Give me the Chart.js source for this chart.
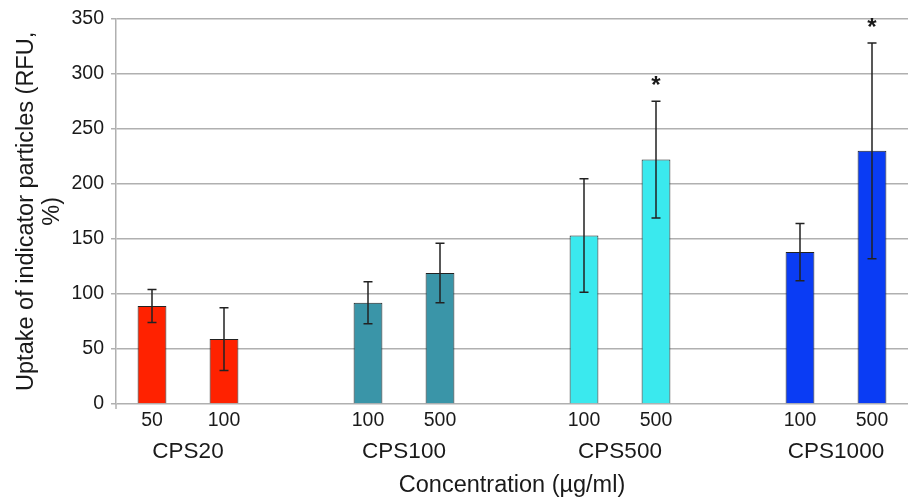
<!DOCTYPE html>
<html>
<head>
<meta charset="utf-8">
<script src="https://cdn.jsdelivr.net/npm/chart.js@4/dist/chart.umd.min.js"></script>
<style>
    html, body { margin: 0; padding: 0; background: #fff; }
    #wrap { width: 910px; height: 498px; }
</style>
</head>
<body>
<div id="wrap"><canvas id="uptake-chart" width="910" height="498"></canvas></div>
<script>
// Values
const groupNames = ["CPS20", "CPS100", "CPS500", "CPS1000"];
const doses = ["50", "100", "100", "500", "100", "500", "100", "500"];
const uptake = [89, 59, 92, 119, 153, 222, 138, 230];
const uptakeSd = [15, 28.5, 19, 27, 51.5, 53, 26, 98];
const significant = [false, false, false, false, false, true, false, true];
const yTicks = [0, 50, 100, 150, 200, 250, 300, 350];

const groupColors = ["#ff2200", "#3a95a8", "#3ae9ee", "#0a3cf4"];
const textColor = "#1a1a1a";
const gridColor = "#b0b0b0";
const fontFamily = "'Liberation Sans', Arial, sans-serif";

// Two bars per group, one empty slot between groups
let labels = [], values = [], errors = [], stars = [], colors = [], groupSlots = [];
let barIndex = 0;
groupNames.forEach((name, g) => {
    let slots = [];
    for (let k = 0; k < 2; k++) {
        slots.push(labels.length);
        labels.push(doses[barIndex]);
        values.push(uptake[barIndex]);
        errors.push(uptakeSd[barIndex]);
        stars.push(significant[barIndex]);
        colors.push(groupColors[g]);
        barIndex++;
    }
    groupSlots.push(slots);
    if (g < groupNames.length - 1) {
        labels.push("");
        values.push(null);
        errors.push(null);
        stars.push(false);
        colors.push("transparent");
    }
});

const errorBars = {
    id: "errorBars",
    afterDatasetsDraw(chart) {
        const {ctx, scales: {x, y}} = chart;
        ctx.save();
        ctx.strokeStyle = "#222";
        ctx.lineWidth = 1.5;
        values.forEach((v, i) => {
            if (v === null) return;
            let px = x.getPixelForValue(i);
            let top = y.getPixelForValue(v + errors[i]);
            let bottom = y.getPixelForValue(v - errors[i]);
            ctx.beginPath();
            ctx.moveTo(px, top);
            ctx.lineTo(px, bottom);
            ctx.moveTo(px - 4.5, top);
            ctx.lineTo(px + 4.5, top);
            ctx.moveTo(px - 4.5, bottom);
            ctx.lineTo(px + 4.5, bottom);
            ctx.stroke();
            if (stars[i]) {
                ctx.fillStyle = textColor;
                ctx.font = "bold 24px " + fontFamily;
                ctx.textAlign = "center";
                ctx.textBaseline = "middle";
                ctx.fillText("*", px, top - 15);
            }
        });
        ctx.restore();
    }
};

const groupLabels = {
    id: "groupLabels",
    afterDraw(chart) {
        const {ctx, scales: {x, y}} = chart;
        ctx.save();
        // y axis runs a little below the zero line
        ctx.strokeStyle = gridColor;
        ctx.lineWidth = 1.5;
        ctx.beginPath();
        ctx.moveTo(x.left, y.bottom);
        ctx.lineTo(x.left, y.bottom + 5);
        ctx.stroke();
        ctx.fillStyle = textColor;
        ctx.font = "22.5px " + fontFamily;
        ctx.textAlign = "center";
        ctx.textBaseline = "middle";
        groupSlots.forEach((slots, g) => {
            let px = (x.getPixelForValue(slots[0]) + x.getPixelForValue(slots[1])) / 2;
            ctx.fillText(groupNames[g], px, x.bottom - 46.5);
        });
        ctx.restore();
    }
};

const ctx = document.getElementById("uptake-chart").getContext("2d");
const chart = new Chart(ctx, {
    type: "bar",
    data: {
        labels: labels,
        datasets: [{
            data: values,
            backgroundColor: colors,
            borderColor: "#222",
            borderWidth: 1,
            barPercentage: 0.4,
            categoryPercentage: 1,
        }]
    },
    options: {
        responsive: false,
        animation: false,
        events: [],
        layout: {padding: {left: 0, right: 2, top: 16, bottom: 0}},
        plugins: {legend: {display: false}, tooltip: {enabled: false}},
        scales: {
            x: {
                grid: {display: false, drawTicks: false},
                border: {display: false},
                ticks: {
                    color: textColor, padding: 5, maxRotation: 0, autoSkip: false,
                    font: {family: fontFamily, size: 19.5},
                },
                title: {
                    display: true, text: "Concentration (µg/ml)", color: textColor,
                    font: {family: fontFamily, size: 23.5, lineHeight: 1.05}, padding: {top: 0, bottom: 0},
                },
                afterFit: (scale) => { scale.height = 94; },
            },
            y: {
                min: 0, max: 350,
                afterBuildTicks: (scale) => { scale.ticks = yTicks.map(v => ({value: v})); },
                grid: {color: gridColor, lineWidth: 1.5, tickLength: 5},
                border: {color: gridColor, width: 1.5},
                ticks: {
                    color: textColor, padding: 7,
                    font: {family: fontFamily, size: 19.5},
                },
                title: {
                    display: true, text: ["Uptake of indicator particles (RFU,", "%)"], color: textColor,
                    font: {family: fontFamily, size: 23.5, lineHeight: 1.1}, padding: {top: 14, bottom: 0},
                },
                afterFit: (scale) => { scale.width = 116; },
            },
        },
    },
    plugins: [errorBars, groupLabels],
});
</script>
</body>
</html>
